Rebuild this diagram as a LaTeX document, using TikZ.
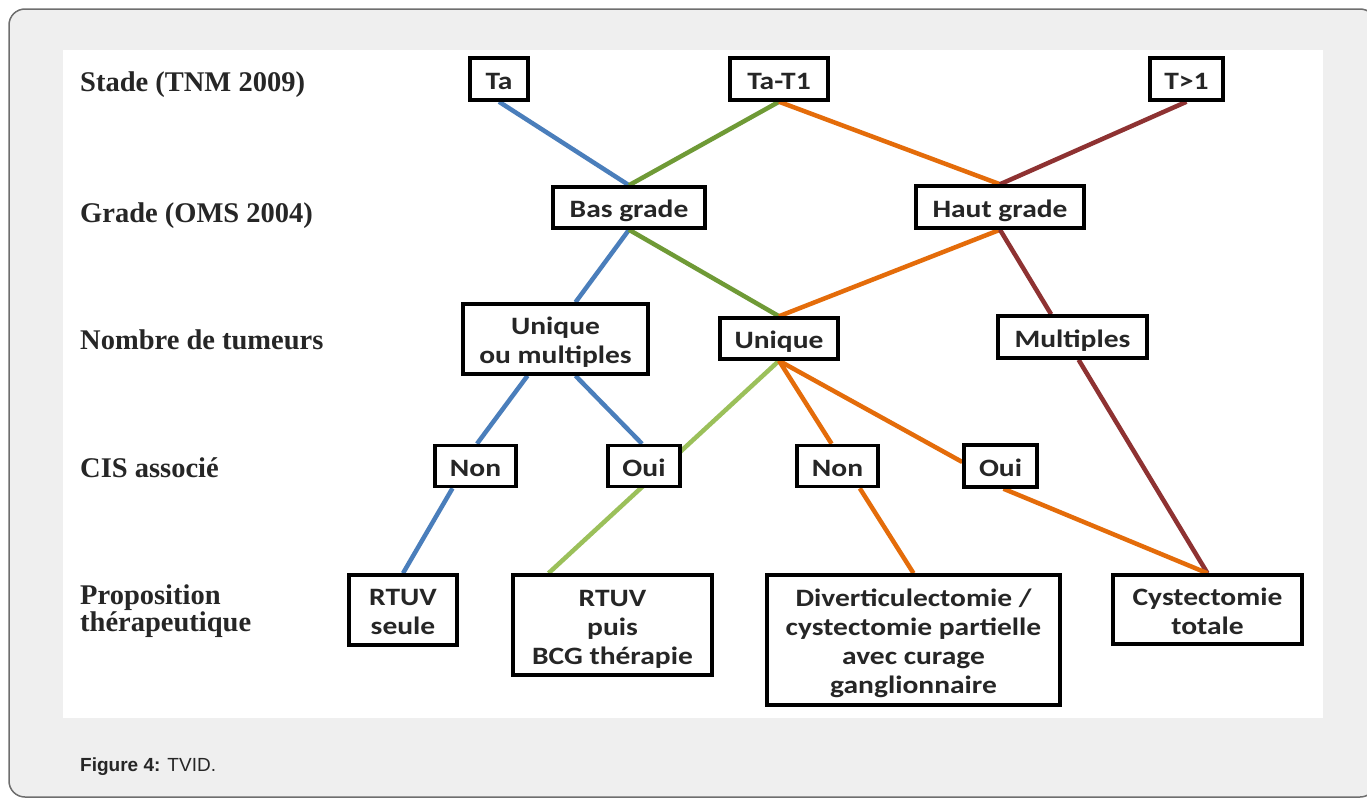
\documentclass[tikz,border=0pt]{standalone}
\usepackage{fontspec}
\setmainfont{Liberation Serif}
\newfontfamily\boxfont{Carlito}[FakeStretch=1.18]
\newfontfamily\capfont{Liberation Sans}
\usetikzlibrary{calc}
\pgfdeclarelayer{bg}
\pgfdeclarelayer{lines}
\pgfsetlayers{bg,lines,main}
\definecolor{cblue}{HTML}{4A7EBB}
\definecolor{cgreen}{HTML}{6F9A36}
\definecolor{clgreen}{HTML}{9BC05A}
\definecolor{corange}{HTML}{E46C0A}
\definecolor{cred}{HTML}{8E3232}
\definecolor{bggray}{HTML}{EFEFEF}
\definecolor{bordergray}{HTML}{6E6E6E}
\definecolor{txt}{HTML}{262626}
\newcommand\bt[2][-4.3pt]{\raisebox{#1}[\height][\depth]{\begin{tabular}{@{}c@{}}#2\end{tabular}}}
\begin{document}
\begin{tikzpicture}[x=1pt,y=-1pt,
  box/.style={draw=black, line width=3.5pt, fill=white, inner sep=0pt,
    font=\boxfont\bfseries\fontsize{25}{29}\selectfont, text=txt},
  lbl/.style={inner sep=0pt, align=left, font=\bfseries\fontsize{28.5}{27}\selectfont, text=txt},
  conn/.style={line width=4.5pt}
]
\useasboundingbox (0,0) rectangle (1367,803);
\begin{pgfonlayer}{bg}
  \clip (0,0) rectangle (1367,803);
  \draw[fill=bggray, draw=bordergray, line width=1.5pt, rounded corners=16pt] (9,9) rectangle (1376,797);
  \fill[white] (63,50) rectangle (1323,718);
\end{pgfonlayer}

% row labels
\node[lbl, anchor=base west] (l1) at (80,91) {Stade (TNM 2009)};
\node[lbl, anchor=base west] (l2) at (80,222) {Grade (OMS 2004)};
\node[lbl, anchor=base west] (l3) at (80,349) {Nombre de tumeurs};
\node[lbl, anchor=base west] (l4) at (80,477) {CIS associé};
\node[lbl, anchor=west] (l5) at (80,611) {Proposition\\thérapeutique};

% stage
\node[box, minimum width=58pt, minimum height=42pt] (ta) at (499,79) {\bt{Ta}};
\node[box, minimum width=98pt, minimum height=42pt] (tat1) at (779,79) {\bt{Ta-T1}};
\node[box, minimum width=73pt, minimum height=42pt] (tg1) at (1186.5,79) {\bt{T>1}};
% grade
\node[box, minimum width=152pt, minimum height=41pt] (bas) at (629,207.5) {\bt{Bas grade}};
\node[box, minimum width=168pt, minimum height=42pt] (haut) at (1000,207) {\bt{Haut grade}};
% number
\node[box, minimum width=185pt, minimum height=70pt] (uom) at (555.5,339) {\bt{Unique\\ou multiples}};
\node[box, minimum width=118pt, minimum height=41pt] (uni) at (779,338.5) {\bt{Unique}};
\node[box, minimum width=149pt, minimum height=42pt] (multi) at (1072.5,337) {\bt{Multiples}};
% CIS
\node[box, minimum width=81pt, minimum height=41pt] (nonl) at (475.5,466) {\bt{Non}};
\node[box, minimum width=72pt, minimum height=41pt] (ouil) at (644,466) {\bt{Oui}};
\node[box, minimum width=81pt, minimum height=41pt] (nonr) at (837.5,466) {\bt{Non}};
\node[box, minimum width=73pt, minimum height=42pt] (ouir) at (1000.5,466) {\bt{Oui}};
% therapy
\node[box, minimum width=108pt, minimum height=70pt] (rtuvs) at (403,610) {\bt{RTUV\\seule}};
\node[box, minimum width=199pt, minimum height=100pt] (bcg) at (612.5,625) {\bt{RTUV\\puis\\BCG thérapie}};
\node[box, minimum width=293pt, minimum height=130pt] (div) at (913.5,640) {\bt{Diverticulectomie /\\cystectomie partielle\\avec curage\\ganglionnaire}};
\node[box, minimum width=189pt, minimum height=69pt] (cyst) at (1207.5,609.5) {\bt{Cystectomie\\totale}};

% caption
\node[anchor=base west, inner sep=0pt, font=\capfont\fontsize{19}{22}\selectfont, text=txt] (cap) at (80,771) {\textbf{Figure 4:} TVID.};

\begin{pgfonlayer}{lines}
  \draw[conn, cblue] (ta.south) -- (bas.north);
  \draw[conn, cgreen] (tat1.south) -- (bas.north);
  \draw[conn, corange] (tat1.south) -- (haut.north);
  \draw[conn, cred] (tg1.south) -- (haut.north);
  \draw[conn, cblue] (bas.south) -- ($(uom.north)+(20,0)$);
  \draw[conn, cgreen] (bas.south) -- (uni.north);
  \draw[conn, corange] (haut.south) -- (uni.north);
  \draw[conn, cred] (haut.south) -- (intersection of haut.south--cyst.north and multi.north west--multi.north east);
  \draw[conn, cred] (intersection of haut.south--cyst.north and multi.south west--multi.south east) -- (cyst.north);
  \draw[conn, cblue] ($(uom.south)+(-28,0)$) -- ($(nonl.north)+(1.5,0)$);
  \draw[conn, cblue] ($(uom.south)+(20,0)$) -- ($(ouil.north)+(-2,0)$);
  \draw[conn, cblue] ($(nonl.south)+(-23,0)$) -- (rtuvs.north);
  \draw[conn, clgreen] (uni.south) -- ($(bcg.north)+(-64,0)$);
  \draw[conn, corange] (uni.south) -- (intersection of uni.south--div.north and nonr.north west--nonr.north east);
  \draw[conn, corange] (intersection of uni.south--div.north and nonr.south west--nonr.south east) -- (div.north);
  \draw[conn, corange] (uni.south) -- ($(ouir.west)+(0,-4)$);
  \draw[conn, corange] ($(ouir.south)+(3,0)$) -- (cyst.north);
\end{pgfonlayer}
\end{tikzpicture}
\end{document}
